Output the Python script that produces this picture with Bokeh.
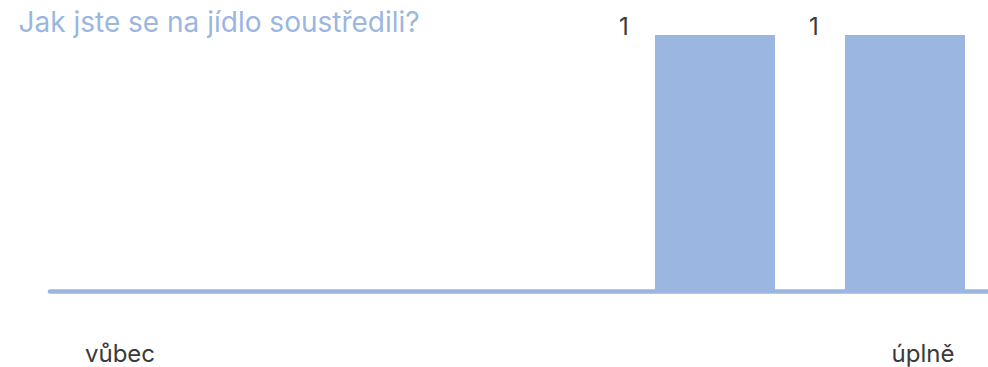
from bokeh.plotting import figure
from bokeh.models import Range1d, Label, ColumnDataSource
from bokeh.core.properties import value
from bokeh.embed import file_html
from bokeh.resources import INLINE

# ---- data ----
title_text = "Jak jste se na jídlo soustředili?"
categories = [1, 2, 3, 4, 5]
counts = [0, 0, 0, 1, 1]
low_label = "vůbec"
high_label = "úplně"

BAR_COLOR = "#9bb6e0"
TITLE_COLOR = "#9bb6e0"
LABEL_COLOR = "#3a3a3a"
FONT = "Inter"

W, H = 988, 367
X0 = 0.2395
Y1 = 1.1345
p = figure(width=W, height=H, output_backend="svg", toolbar_location=None,
           x_range=Range1d(X0, X0 + W / 190.0),
           y_range=Range1d(Y1 - H / 256.5, Y1),
           min_border=0, min_border_left=0, min_border_right=0,
           min_border_top=0, min_border_bottom=0)
p.axis.visible = False
p.grid.visible = False
p.outline_line_color = None
p.background_fill_color = "white"
p.border_fill_color = "white"

# baseline under the bars
p.segment(x0=[categories[0] - 0.5], y0=[0], x1=[categories[-1] + 0.5], y1=[0],
          line_color=BAR_COLOR, line_width=4.5, line_cap="round")

src = ColumnDataSource(dict(x=categories, top=counts))
p.vbar(x="x", top="top", bottom=0, width=0.632, source=src,
       fill_color=BAR_COLOR, line_color=None)

# value labels (only for non-zero bars)
lx = [c - 0.48 for c, v in zip(categories, counts) if v > 0]
ly = [v for v in counts if v > 0]
lt = [str(v) for v in counts if v > 0]
p.text(x=lx, y=ly, text=lt, text_align="center", text_baseline="alphabetic",
       text_font=value(FONT), text_font_size="24px", text_color=LABEL_COLOR,
       y_offset=-9)

# title
p.add_layout(Label(x=18, y=H - 21, x_units="screen", y_units="screen",
                   text=title_text, text_font=FONT, text_font_size="28px",
                   text_color=TITLE_COLOR, text_baseline="alphabetic",
                   text_align="left"))

# scale end labels
p.add_layout(Label(x=categories[0] - 0.316, y=14, x_units="data", y_units="screen",
                   text=low_label, text_font=FONT, text_font_size="24px",
                   text_color=LABEL_COLOR, text_baseline="alphabetic",
                   text_align="left"))
p.add_layout(Label(x=categories[-1] + 0.26, y=14, x_units="data", y_units="screen",
                   text=high_label, text_font=FONT, text_font_size="24px",
                   text_color=LABEL_COLOR, text_baseline="alphabetic",
                   text_align="right"))

open("out.html", "w").write(file_html(p, INLINE))
